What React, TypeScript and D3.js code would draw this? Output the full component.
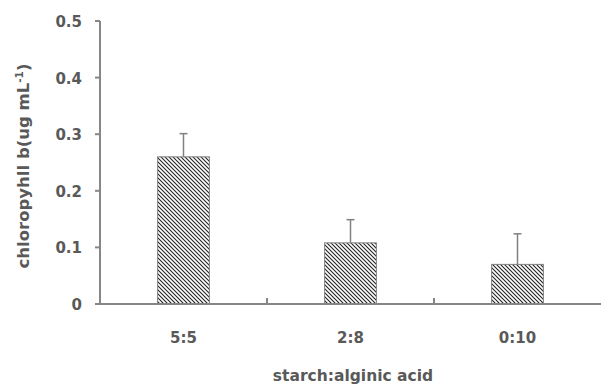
import React from "react";
import * as d3 from "d3";

const categories = ["5:5", "2:8", "0:10"];
const values = [0.26, 0.108, 0.07];
const errors = [0.041, 0.041, 0.054];
const yTicks = [0, 0.1, 0.2, 0.3, 0.4, 0.5];

const W = 604, H = 387;
const left = 100, right = 601, top = 21, bottom = 304;
const font = "'DejaVu Sans', 'Noto Sans', sans-serif";
const textColor = "#595959";
const axisColor = "#868686";
const fs = 15;

export default function App() {
  const x = d3.scaleBand<string>().domain(categories).range([left, right]).paddingInner(0.69).paddingOuter(0.345);
  const y = d3.scaleLinear().domain([0, 0.5]).range([bottom, top]);
  const bands = d3.scaleBand<string>().domain(categories).range([left, right]);
  return (
    <svg width={W} height={H} style={{ position: "absolute", left: 0, top: 0 }}>
      <defs>
        <pattern id="hatch" patternUnits="userSpaceOnUse" width={4} height={4}>
          <rect width={4} height={4} fill="#fff" />
          <path d="M-1,-1 L5,5 M-1,3 L1,5 M3,-1 L5,1" stroke="#222" strokeWidth={1.1} />
        </pattern>
      </defs>
      {categories.map((c, i) => {
        const bx = x(c)!;
        const bw = x.bandwidth();
        const cx = bx + bw / 2;
        return (
          <g key={c}>
            <rect x={bx} y={y(values[i])} width={bw} height={y(0) - y(values[i])} fill="url(#hatch)" stroke="#808080" strokeWidth={1} />
            <line x1={cx} x2={cx} y1={y(values[i])} y2={y(values[i] + errors[i])} stroke="#808080" strokeWidth={1.5} />
            <line x1={cx - 4} x2={cx + 4} y1={y(values[i] + errors[i])} y2={y(values[i] + errors[i])} stroke="#808080" strokeWidth={1.5} />
            <text x={bands(c)! + bands.bandwidth() / 2} y={343} textAnchor="middle" fontFamily={font} fontWeight="bold" fontSize={fs} fill={textColor}>{c}</text>
          </g>
        );
      })}
      {/* y axis */}
      <line x1={left} x2={left} y1={top} y2={bottom} stroke={axisColor} strokeWidth={2} />
      {yTicks.map((t) => (
        <g key={t}>
          <line x1={left - 5} x2={left} y1={y(t)} y2={y(t)} stroke={axisColor} strokeWidth={2} />
          <text x={82} y={y(t) + 6} textAnchor="end" fontFamily={font} fontWeight="bold" fontSize={fs} fill={textColor}>{t === 0 ? "0" : t.toFixed(1)}</text>
        </g>
      ))}
      {/* x axis */}
      <line x1={left} x2={right} y1={bottom} y2={bottom} stroke={axisColor} strokeWidth={2} />
      {categories.slice(1).map((c) => (
        <line key={c} x1={bands(c)!} x2={bands(c)!} y1={bottom} y2={bottom - 6} stroke={axisColor} strokeWidth={2} />
      ))}
      <text x={353} y={381} textAnchor="middle" fontFamily={font} fontWeight="bold" fontSize={15.5} fill={textColor}>starch:alginic acid</text>
      <text transform={`translate(29,166) rotate(-90)`} textAnchor="middle" fontFamily={font} fontWeight="bold" fontSize={16.5} fill={textColor}>
        chloropyhll b(ug mL<tspan dy={-6} fontSize={10.5}>-1</tspan><tspan dy={6}>)</tspan>
      </text>
    </svg>
  );
}
